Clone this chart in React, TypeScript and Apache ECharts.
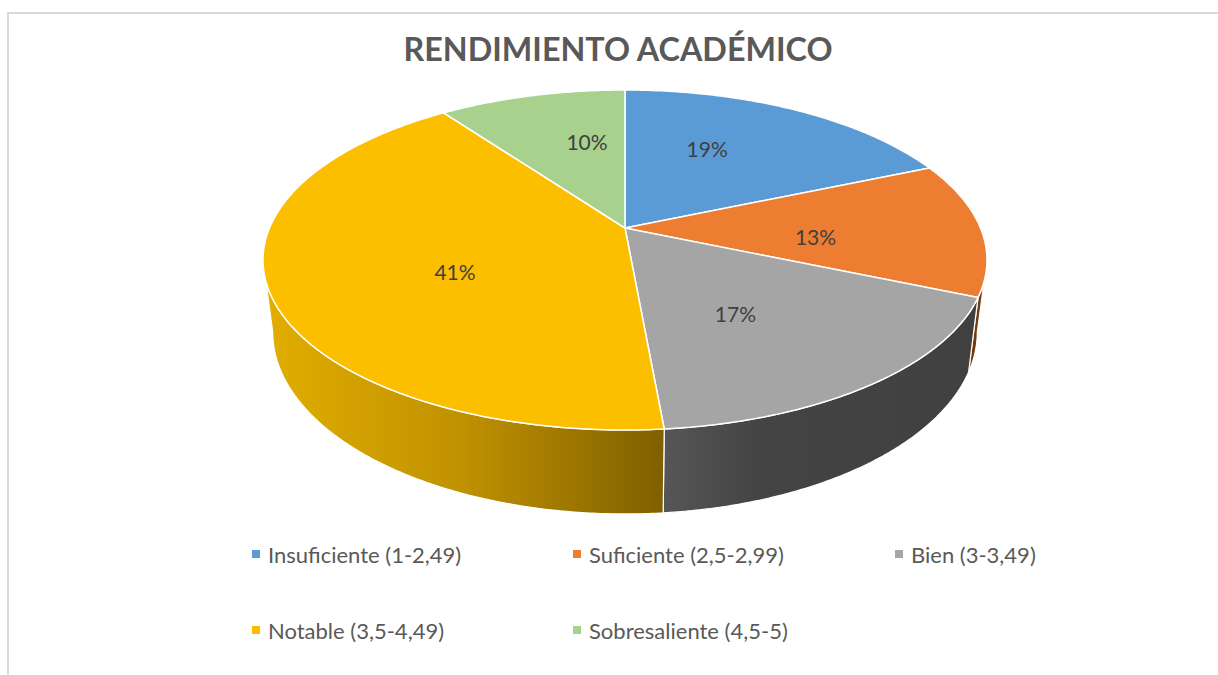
import React, { useEffect, useRef } from "react";
import * as echarts from "echarts";

const titleText = "RENDIMIENTO ACADÉMICO";
const categories = [
  "Insuficiente (1-2,49)",
  "Suficiente (2,5-2,99)",
  "Bien (3-3,49)",
  "Notable (3,5-4,49)",
  "Sobresaliente (4,5-5)",
];
const counts = [13, 9, 12, 29, 7];
const topColors = ["#5B9BD5", "#ED7D31", "#A5A5A5", "#FCBF00", "#A9D18E"];
const wallStops: [number, string][][] = [
  [[0, "#2F5D88"], [1, "#2F5D88"]],
  [[0, "#6E3A10"], [1, "#7A3B0C"]],
  [[0, "#565656"], [0.3, "#444444"], [1, "#404040"]],
  [[0, "#E2AE00"], [0.5, "#C09100"], [1, "#7F6000"]],
  [[0, "#6E8F58"], [1, "#6E8F58"]],
];
const labelShift: [number, number][] = [[-17, -10], [-5, 8], [-15, 6], [20, 10.5], [17, -8]];
const legendSlots: [number, number][] = [[252, 543], [573, 543], [895, 543], [252, 619], [573, 619]];

const total = counts.reduce((s, v) => s + v, 0);
const CX = 625;
const TOP = { k: 355.5, y0: 228, b: 121.06, a: 0.18824 };
const BASE = { k: 346, y0: 297.7, b: 119.5, a: 0.18824 };
const FRONT_FROM = 100.85;
const FRONT_TO = 259.15;

type Face = typeof TOP;
function project(deg: number, r: number, f: Face): [number, number] {
  const t = (deg * Math.PI) / 180;
  const u = r * Math.sin(t);
  const v = r * Math.cos(t);
  const d = 1 + f.a * v;
  return [CX + (f.k * u) / d, (f.y0 - f.b * v) / d];
}
function arc(from: number, to: number, f: Face): [number, number][] {
  const pts: [number, number][] = [];
  const n = Math.max(2, Math.ceil(Math.abs(to - from) * 2));
  for (let i = 0; i <= n; i++) pts.push(project(from + ((to - from) * i) / n, 1, f));
  return pts;
}

const makeSeries = (i: number) => {
  const before = counts.slice(0, i).reduce((s, v) => s + v, 0);
  return {
    type: "custom",
    name: categories[i],
    coordinateSystem: "none",
    silent: true,
    itemStyle: { color: topColors[i] },
    data: [counts[i]],
    renderItem: (_p: any, api: any) => {
      const value = api.value(0) as number;
      const start = (before / total) * 360;
      const end = ((before + value) / total) * 360;
      const mid = (start + end) / 2;
      const children: any[] = [];
      const wallA = Math.max(start, FRONT_FROM);
      const wallB = Math.min(end, FRONT_TO);
      if (wallB > wallA) {
        children.push({
          type: "polygon",
          z2: 1,
          shape: { points: [...arc(wallA, wallB, TOP), ...arc(wallB, wallA, BASE)] },
          style: {
            fill: new echarts.graphic.LinearGradient(
              0, 0, 1, 0,
              wallStops[i].map(([offset, color]) => ({ offset, color }))
            ),
            stroke: "#FFFFFF",
            lineWidth: 1.2,
          },
        });
      }
      children.push({
        type: "polygon",
        z2: 5,
        shape: { points: [project(0, 0, TOP), ...arc(start, end, TOP)] },
        style: { fill: topColors[i], stroke: "#FFFFFF", lineWidth: 1.5, lineJoin: "round" },
      });
      const [lx, ly] = project(mid, 0.55, TOP);
      children.push({
        type: "text",
        z2: 10,
        x: lx + labelShift[i][0],
        y: ly + labelShift[i][1],
        style: {
          text: `${Math.round((value / total) * 100)}%`,
          fill: "#404040",
          font: '21px Lato, "Open Sans", sans-serif',
          align: "center",
          verticalAlign: "middle",
        },
      });
      return { type: "group", children };
    },
  };
};

export default function App() {
  const ref = useRef<HTMLDivElement>(null);
  useEffect(() => {
    if (!ref.current) return;
    const chart = echarts.init(ref.current, undefined, { renderer: "svg" });
    chart.setOption({
      animation: false,
      backgroundColor: "#FFFFFF",
      title: {
        text: titleText,
        left: 613,
        top: 27,
        textAlign: "center",
        textStyle: {
          fontFamily: 'Lato, "Open Sans", sans-serif',
          fontWeight: "bold",
          fontSize: 32.3,
          color: "#595959",
        },
      },
      legend: categories.map((name, i) => ({
        data: [name],
        left: legendSlots[i][0],
        top: legendSlots[i][1],
        padding: 0,
        icon: "rect",
        itemWidth: 8,
        itemHeight: 8,
        selectedMode: false,
        textStyle: {
          fontFamily: 'Lato, "Open Sans", sans-serif',
          fontSize: 22,
          color: "#595959",
          padding: [0, 0, 0, 3],
        },
      })),
      graphic: [
        { type: "line", silent: true, shape: { x1: 8, y1: 13, x2: 8, y2: 675 }, style: { stroke: "#D9D9D9", lineWidth: 2 } },
        { type: "line", silent: true, shape: { x1: 7, y1: 13, x2: 1218, y2: 13 }, style: { stroke: "#D9D9D9", lineWidth: 2 } },
      ],
      series: categories.map((_, i) => makeSeries(i)),
    });
    return () => chart.dispose();
  }, []);
  return <div ref={ref} style={{ position: "absolute", left: 0, top: 0, width: 1218, height: 675 }} />;
}
